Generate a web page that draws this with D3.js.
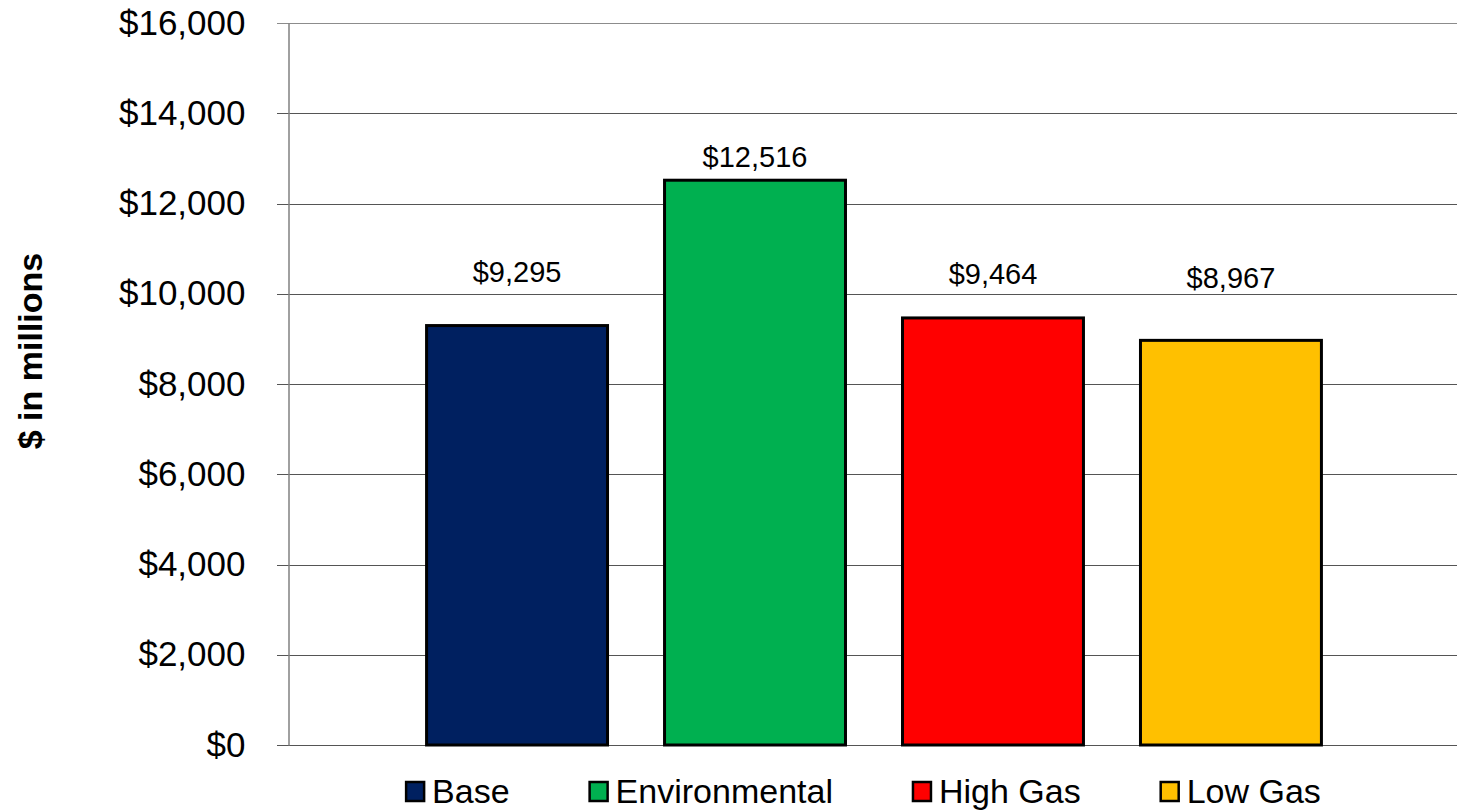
<!DOCTYPE html>
<html>
<head>
<meta charset="utf-8">
<script src="https://cdn.jsdelivr.net/npm/d3@7"></script>
<style>
  html, body { margin: 0; padding: 0; background: #ffffff; }
  svg { display: block; font-family: "Liberation Sans", Arial, sans-serif; }
</style>
</head>
<body>
<svg id="chart" width="1457" height="811"></svg>
<script>
// ---- data ----
const seriesNames = ["Base", "Environmental", "High Gas", "Low Gas"];
const seriesValues = [9295, 12516, 9464, 8967];
const seriesColors = ["#002060", "#00B050", "#FF0000", "#FFC000"];
const valueLabels = ["$9,295", "$12,516", "$9,464", "$8,967"];
const labelAnchors = [10260, 12810, 10215, 10130]; // where each data label sits (in $ millions)
const yTicks = [0, 2000, 4000, 6000, 8000, 10000, 12000, 14000, 16000];
const yTitle = "$ in millions";

// ---- layout ----
const svg = d3.select("#chart");
const plot = { left: 288, right: 1460, top: 23, bottom: 745 };

const y = d3.scaleLinear().domain([0, 16000]).range([plot.bottom, plot.top]);
const x = d3.scaleBand()
  .domain(seriesNames)
  .range([plot.left, plot.right])
  .paddingInner(0.227)
  .paddingOuter(0.576);

const fmt = d => "$" + d3.format(",")(d);

// gridlines
svg.append("g")
  .selectAll("line")
  .data(yTicks)
  .join("line")
  .attr("x1", plot.left - 11)
  .attr("x2", plot.right)
  .attr("y1", d => Math.round(y(d)) + 0.5)
  .attr("y2", d => Math.round(y(d)) + 0.5)
  .attr("stroke", d => d === 16000 ? "#8c8c8c" : "#555555")
  .attr("stroke-width", 1.2);

// y axis (labels + line)
const yAxis = d3.axisLeft(y).tickValues(yTicks).tickFormat(fmt).tickSize(0).tickPadding(43);
const gy = svg.append("g").attr("transform", `translate(${plot.left + 0.5},0)`).call(yAxis);
gy.select(".domain").attr("stroke", "#808080").attr("stroke-width", 1.5);
gy.selectAll("text")
  .attr("font-size", 35)
  .attr("fill", "#000")
  .style("font-family", "'Liberation Sans', Arial, sans-serif");

// y title
svg.append("text")
  .attr("transform", `translate(42,351) rotate(-90)`)
  .attr("text-anchor", "middle")
  .attr("font-size", 34)
  .attr("font-weight", "bold")
  .attr("fill", "#000")
  .text(yTitle);

// bars
const data = seriesNames.map((n, i) => ({ name: n, value: seriesValues[i], color: seriesColors[i], label: valueLabels[i], anchor: labelAnchors[i] }));

svg.append("g")
  .selectAll("rect")
  .data(data)
  .join("rect")
  .attr("x", d => x(d.name) + 1.5)
  .attr("width", x.bandwidth() - 3)
  .attr("y", d => y(d.value))
  .attr("height", d => y(0) - y(d.value))
  .attr("fill", d => d.color)
  .attr("stroke", "#000")
  .attr("stroke-width", 3);

// data labels
svg.append("g")
  .selectAll("text")
  .data(data)
  .join("text")
  .attr("x", d => x(d.name) + x.bandwidth() / 2)
  .attr("y", d => y(d.anchor))
  .attr("text-anchor", "middle")
  .attr("font-size", 29)
  .attr("fill", "#000")
  .text(d => d.label);

// legend
const legend = svg.append("g");
const items = legend.selectAll("g").data(data).join("g");
items.append("rect")
  .attr("x", 1).attr("y", -10)
  .attr("width", 18).attr("height", 19)
  .attr("fill", d => d.color)
  .attr("stroke", "#000")
  .attr("stroke-width", 2.5);
items.append("text")
  .attr("x", 27)
  .attr("y", 11)
  .attr("font-size", 34)
  .attr("fill", "#000")
  .text(d => d.name);

let offset = 0;
const gap = 79;
const widths = [];
items.each(function() {
  widths.push(27 + this.querySelector("text").getComputedTextLength());
});
const totalW = d3.sum(widths) + gap * (widths.length - 1);
const startX = 863 - totalW / 2;
items.attr("transform", (d, i) => {
  const t = `translate(${startX + offset},792)`;
  offset += widths[i] + gap;
  return t;
});
</script>
</body>
</html>
